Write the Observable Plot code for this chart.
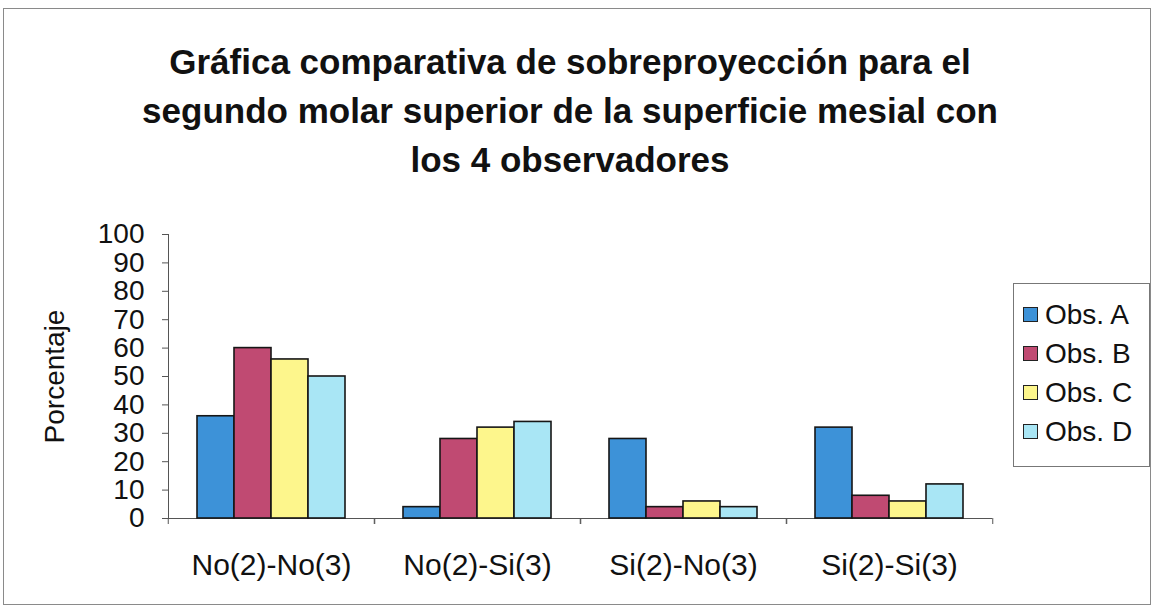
<!DOCTYPE html>
<html>
<head>
<meta charset="utf-8">
<script src="https://cdn.jsdelivr.net/npm/d3@7"></script>
<script src="https://cdn.jsdelivr.net/npm/@observablehq/plot@0.6"></script>
<style>
  html, body { margin: 0; padding: 0; background: #fff; }
  #wrap { position: relative; width: 1155px; height: 610px; overflow: hidden; font-family: "Liberation Sans", Arial, sans-serif; color: #111; }
  #border { position: absolute; left: 3px; top: 8px; width: 1148px; height: 597px; border: 1px solid #8a8a8a; box-sizing: border-box; }
  #title { position: absolute; left: 0; top: 37px; width: 1140px; text-align: center; font-weight: bold; font-size: 35px; line-height: 49px; }
  #chart { position: absolute; left: 0; top: 200px; }
  #legend { position: absolute; left: 1013px; top: 283px; width: 137px; height: 184px; border: 1px solid #777; box-sizing: border-box; padding-top: 11px; }
  .item { display: flex; align-items: center; height: 39px; font-size: 28px; padding-left: 9px; }
  .sw { width: 15px; height: 15px; border: 1.5px solid #222; margin-right: 7px; box-sizing: border-box; }
</style>
</head>
<body>
<div id="wrap">
  <div id="border"></div>
  <div id="title">Gráfica comparativa de sobreproyección para el<br>segundo molar superior de la superficie mesial con<br>los 4 observadores</div>
  <div id="chart"></div>
  <div id="legend"></div>
</div>
<script>
// ---- data ----
const categories = ["No(2)-No(3)", "No(2)-Si(3)", "Si(2)-No(3)", "Si(2)-Si(3)"];
const series = ["Obs. A", "Obs. B", "Obs. C", "Obs. D"];
const obsA = [36, 4, 28, 32];
const obsB = [60, 28, 4, 8];
const obsC = [56, 32, 6, 6];
const obsD = [50, 34, 4, 12];
const yTicks = [0, 10, 20, 30, 40, 50, 60, 70, 80, 90, 100];

// ---- style ----
const colors = ["#3d92d8", "#c04a72", "#fdf68c", "#a9e6f5"];

const values = [obsA, obsB, obsC, obsD];
const data = [];
categories.forEach((c, i) => series.forEach((s, j) => data.push({category: c, series: s, value: values[j][i]})));

const W = 1155, ML = 167, MR = 162;
const step = (W - ML - MR) / categories.length;

const chart = Plot.plot({
  width: W,
  height: 400,
  marginLeft: ML,
  marginRight: MR,
  marginTop: 34,
  marginBottom: 82,
  style: {fontFamily: "'Liberation Sans', Arial, sans-serif", background: "transparent", color: "#111"},
  fx: {domain: categories, padding: 0, label: null},
  x: {domain: series, paddingInner: 0, paddingOuter: 0.735, axis: null},
  y: {domain: [0, 100], label: "Porcentaje"},
  color: {domain: series, range: colors},
  marks: [
    Plot.ruleY([0], {stroke: "#555"}),
    Plot.frame({anchor: "left", facetAnchor: "left", stroke: "#555"}),
    Plot.barY(data, {fx: "category", x: "series", y: "value", fill: "series", stroke: "#161616", strokeWidth: 1.6}),
    Plot.axisY(yTicks, {tickSize: 6, tickPadding: 18, fontSize: 28, stroke: "#555", label: "Porcentaje", labelAnchor: "center", labelArrow: "none", labelOffset: 124}),
    Plot.axisFx({anchor: "bottom", tickSize: 0, tickPadding: 35, fontSize: 30, label: null}),
    Plot.axisFx({anchor: "bottom", tickSize: 6, stroke: "#555", tickFormat: () => "", dx: -step / 2, label: null}),
    Plot.axisFx({anchor: "bottom", tickSize: 6, stroke: "#555", tickFormat: () => "", dx: step / 2, label: null})
  ]
});
document.getElementById("chart").appendChild(chart);

const legend = document.getElementById("legend");
series.forEach((s, i) => {
  const it = document.createElement("div");
  it.className = "item";
  const sw = document.createElement("div");
  sw.className = "sw";
  sw.style.background = colors[i];
  const t = document.createElement("span");
  t.textContent = s;
  it.appendChild(sw); it.appendChild(t);
  legend.appendChild(it);
});
</script>
</body>
</html>
